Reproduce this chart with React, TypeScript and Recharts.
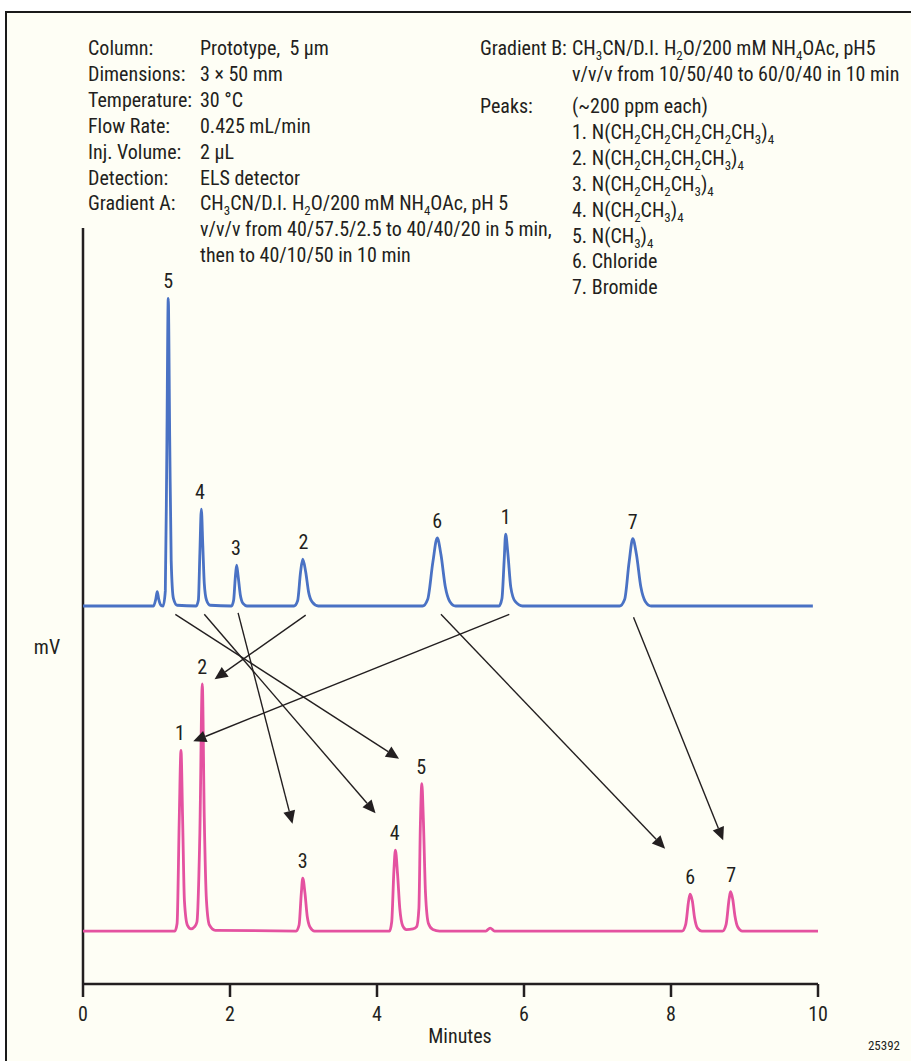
import React from 'react';
import { LineChart, Line, XAxis, YAxis, ReferenceLine, ReferenceDot } from 'recharts';

const FONT = "'Liberation Sans Narrow', 'Arial Narrow', 'Roboto Condensed', 'DejaVu Sans Condensed', sans-serif";
const INK = '#231f20';
const BLUE = '#4a72c4';
const PINK = '#e452a0';

const xTicks = [0, 2, 4, 6, 8, 10];

// Upper chromatogram (time in min, signal in mV units)
const upperTrace: [number, number][] = [
  [0.0, 50.0], [0.96, 50.0], [0.99, 50.9], [1.01, 51.9], [1.03, 50.9], [1.06, 50.1],
  [1.09, 50.0], [1.12, 52.0], [1.14, 70.0], [1.16, 90.7], [1.18, 72.0], [1.2, 56.0], [1.23, 51.0], [1.28, 50.1],
  [1.54, 50.0], [1.57, 50.8], [1.59, 57.0], [1.61, 62.8], [1.63, 58.0], [1.65, 53.0], [1.68, 50.8], [1.73, 50.1],
  [2.02, 50.0], [2.05, 50.8], [2.07, 53.5], [2.09, 55.4], [2.11, 54.0], [2.14, 51.5], [2.18, 50.3], [2.23, 50.0],
  [2.87, 50.0], [2.92, 50.7], [2.96, 54.5], [2.99, 56.2], [3.03, 54.5], [3.07, 51.8], [3.12, 50.5], [3.2, 50.0],
  [4.62, 50.0], [4.69, 50.9], [4.76, 55.8], [4.82, 59.0], [4.87, 56.8], [4.93, 52.5], [4.99, 50.6], [5.07, 50.0],
  [5.66, 50.0], [5.7, 51.0], [5.73, 56.0], [5.75, 59.5], [5.78, 57.0], [5.82, 52.5], [5.88, 50.6], [5.98, 50.0],
  [7.3, 50.0], [7.37, 50.9], [7.43, 55.8], [7.48, 58.9], [7.53, 56.8], [7.59, 52.5], [7.65, 50.6], [7.73, 50.0],
  [9.93, 50.0],
];

// Lower chromatogram
const lowerTrace: [number, number][] = [
  [0.0, 7.0], [1.25, 7.0], [1.28, 8.0], [1.31, 22.0], [1.333, 30.9], [1.355, 22.0], [1.38, 11.0], [1.42, 7.8], [1.47, 7.3],
  [1.52, 7.6], [1.55, 8.2], [1.59, 20.0], [1.623, 39.7], [1.65, 22.0], [1.68, 11.0], [1.72, 7.8], [1.8, 7.1],
  [2.9, 7.0], [2.94, 7.8], [2.97, 12.0], [2.99, 14.0], [3.02, 12.0], [3.05, 9.0], [3.09, 7.5], [3.15, 7.0],
  [4.17, 7.0], [4.2, 8.2], [4.23, 15.0], [4.25, 17.7], [4.28, 14.5], [4.31, 10.0], [4.35, 7.7], [4.4, 7.2],
  [4.49, 7.3], [4.54, 7.6], [4.57, 10.0], [4.59, 21.0], [4.61, 26.5], [4.63, 22.0], [4.66, 12.0], [4.7, 8.0], [4.76, 7.2], [4.85, 7.0],
  [5.48, 7.0], [5.54, 7.4], [5.6, 7.0],
  [8.15, 7.0], [8.2, 7.9], [8.24, 11.0], [8.26, 11.9], [8.29, 11.0], [8.32, 8.8], [8.36, 7.4], [8.42, 7.0],
  [8.7, 7.0], [8.75, 7.9], [8.79, 11.2], [8.81, 12.2], [8.84, 11.2], [8.87, 9.0], [8.91, 7.5], [8.97, 7.0],
  [10.0, 7.0],
];

const upperPeakLabels = [
  { t: 1.16, v: 90.7, name: '5' },
  { t: 1.59, v: 62.8, name: '4' },
  { t: 2.08, v: 55.4, name: '3' },
  { t: 3.0, v: 56.2, name: '2' },
  { t: 4.82, v: 59.0, name: '6' },
  { t: 5.75, v: 59.5, name: '1' },
  { t: 7.48, v: 58.9, name: '7' },
];

const lowerPeakLabels = [
  { t: 1.32, v: 30.9, name: '1' },
  { t: 1.62, v: 39.7, name: '2' },
  { t: 2.99, v: 14.0, name: '3' },
  { t: 4.24, v: 17.7, name: '4' },
  { t: 4.6, v: 26.5, name: '5' },
  { t: 8.26, v: 11.9, name: '6' },
  { t: 8.82, v: 12.2, name: '7' },
];

// Arrows: from upper peak to its position in lower trace
const arrowFrom: [number, number][] = [
  [1.256, 48.9], [1.65, 48.9], [2.11, 49.1], [3.03, 48.8], [5.8, 48.9], [4.87, 48.9], [7.49, 48.5],
];
const arrowTo: [number, number][] = [
  [4.3, 29.8], [3.98, 22.6], [2.85, 21.2], [1.79, 40.3], [1.5, 32.1], [7.92, 17.9], [8.71, 19.0],
];

const leftLabels = ['Column:', 'Dimensions:', 'Temperature:', 'Flow Rate:', 'Inj. Volume:', 'Detection:', 'Gradient A:', '', ''];
const leftValues = [
  'Prototype,  5 µm',
  '3 × 50 mm',
  '30 °C',
  '0.425 mL/min',
  '2 µL',
  'ELS detector',
  'CH_3CN/D.I. H_2O/200 mM NH_4OAc, pH 5',
  'v/v/v from 40/57.5/2.5 to 40/40/20 in 5 min,',
  'then to 40/10/50 in 10 min',
];
const rightTopLabels = ['Gradient B:', ''];
const rightTopValues = ['CH_3CN/D.I. H_2O/200 mM NH_4OAc, pH5', 'v/v/v from 10/50/40 to 60/0/40 in 10 min'];
const peakListTitle = 'Peaks:';
const peakList = [
  '(~200 ppm each)',
  '1. N(CH_2CH_2CH_2CH_2CH_3)_4',
  '2. N(CH_2CH_2CH_2CH_3)_4',
  '3. N(CH_2CH_2CH_3)_4',
  '4. N(CH_2CH_3)_4',
  '5. N(CH_3)_4',
  '6. Chloride',
  '7. Bromide',
];

const upperData = upperTrace.map(([t, v]) => ({ t, v }));
const lowerData = lowerTrace.map(([t, v]) => ({ t, v }));

function Rich({ text, x, y, size = 20 }: { text: string; x: number; y: number; size?: number }) {
  const parts = text.split(/_(\w)/);
  const out: React.ReactNode[] = [];
  let sub = false;
  parts.forEach((p, i) => {
    const isSub = i % 2 === 1;
    if (p === '') return;
    if (isSub) {
      out.push(<tspan key={i} dy={sub ? 0 : 5} fontSize={size * 0.65}>{p}</tspan>);
      sub = true;
    } else {
      out.push(<tspan key={i} dy={sub ? -5 : 0}>{p}</tspan>);
      sub = false;
    }
  });
  return (
    <text x={x} y={y} fontSize={size} fill={INK} fontFamily={FONT} style={{ whiteSpace: 'pre' }}>
      {out}
    </text>
  );
}

const ArrowShape = (props: any) => {
  const { x1, y1, x2, y2 } = props;
  const dx = x2 - x1;
  const dy = y2 - y1;
  const len = Math.sqrt(dx * dx + dy * dy) || 1;
  const ux = dx / len;
  const uy = dy / len;
  const hl = 13;
  const hw = 6;
  const bx = x2 - ux * hl;
  const by = y2 - uy * hl;
  const pts = `${x2},${y2} ${bx - uy * hw},${by + ux * hw} ${bx + uy * hw},${by - ux * hw}`;
  return (
    <g>
      <line x1={x1} y1={y1} x2={bx} y2={by} stroke={INK} strokeWidth={1.4} />
      <polygon points={pts} fill={INK} />
    </g>
  );
};

const makeLabel = (name: string) => (props: any) => (
  <text x={props.cx} y={props.cy - 10} textAnchor="middle" fontSize={20} fill={INK} fontFamily={FONT}>
    {name}
  </text>
);

export default function App() {
  const leftBase = 55;
  const step = 25.9;
  const rightValX = 572;
  return (
    <div style={{ position: 'absolute', left: 0, top: 0, width: 911, height: 1061, background: '#ffffff', overflow: 'hidden' }}>
      <div
        style={{
          position: 'absolute',
          left: 5,
          top: 11,
          width: 1000,
          height: 1100,
          border: '2.5px solid #1a1a1a',
          background: '#fefef5',
        }}
      />
      <div style={{ position: 'absolute', left: 0, top: 0 }}>
        <LineChart width={911} height={1061} margin={{ top: 228, right: 93, bottom: 47, left: 83 }}>
          <XAxis
            type="number"
            dataKey="t"
            domain={[0, 10]}
            ticks={xTicks}
            allowDataOverflow
            tickSize={13}
            tickMargin={10}
            axisLine={{ stroke: INK, strokeWidth: 2.5 }}
            tickLine={{ stroke: INK, strokeWidth: 2.5 }}
            tick={{ fill: INK, fontSize: 20, fontFamily: FONT }}
            height={30}
          />
          <YAxis type="number" domain={[0, 100]} allowDataOverflow hide width={0} />
          <ReferenceLine x={0} stroke={INK} strokeWidth={2.5} ifOverflow="visible" />
          <Line data={upperData} dataKey="v" type="monotone" stroke={BLUE} strokeWidth={2.8} dot={false} isAnimationActive={false} />
          <Line data={lowerData} dataKey="v" type="monotone" stroke={PINK} strokeWidth={2.8} dot={false} isAnimationActive={false} />
          {arrowFrom.map((f, i) => (
            <ReferenceLine
              key={'a' + i}
              segment={[{ x: f[0], y: f[1] }, { x: arrowTo[i][0], y: arrowTo[i][1] }]}
              shape={ArrowShape}
              ifOverflow="visible"
            />
          ))}
          {upperPeakLabels.map((p, i) => (
            <ReferenceDot key={'u' + i} x={p.t} y={p.v} r={0} shape={makeLabel(p.name)} ifOverflow="visible" />
          ))}
          {lowerPeakLabels.map((p, i) => (
            <ReferenceDot key={'l' + i} x={p.t} y={p.v} r={0} shape={makeLabel(p.name)} ifOverflow="visible" />
          ))}
        </LineChart>
      </div>
      <svg width={911} height={1061} style={{ position: 'absolute', left: 0, top: 0, pointerEvents: 'none' }}>
        {leftLabels.map((l, i) => (l ? <Rich key={'ll' + i} text={l} x={88} y={leftBase + i * step} /> : null))}
        {leftValues.map((l, i) => (
          <Rich key={'lv' + i} text={l} x={200} y={leftBase + i * step} />
        ))}
        {rightTopLabels.map((l, i) => (l ? <Rich key={'rl' + i} text={l} x={480} y={leftBase + i * step} /> : null))}
        {rightTopValues.map((l, i) => (
          <Rich key={'rv' + i} text={l} x={rightValX} y={leftBase + i * step} />
        ))}
        <Rich text={peakListTitle} x={480} y={113} />
        {peakList.map((l, i) => (
          <Rich key={'pl' + i} text={l} x={rightValX} y={113 + i * step} />
        ))}
        <text x={47} y={654} textAnchor="middle" fontSize={20} fill={INK} fontFamily={FONT}>mV</text>
        <text x={460} y={1043} textAnchor="middle" fontSize={20} fill={INK} fontFamily={FONT}>Minutes</text>
        <text x={884} y={1050} textAnchor="middle" fontSize={13} fill={INK} fontFamily={FONT}>25392</text>
      </svg>
    </div>
  );
}
